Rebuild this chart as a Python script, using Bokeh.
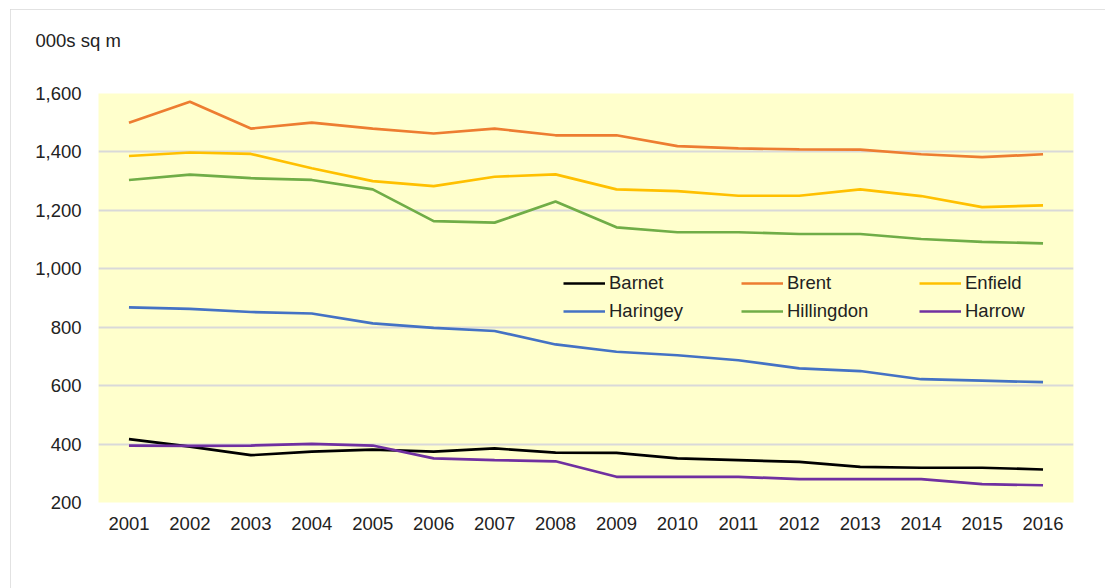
from bokeh.plotting import figure
from bokeh.models import Legend, NumeralTickFormatter, FixedTicker, Range1d, FactorRange
from bokeh.embed import file_html
from bokeh.resources import INLINE

years = [str(y) for y in range(2001, 2017)]
barnet     = [417, 391, 362, 374, 381, 374, 385, 371, 370, 351, 345, 339, 322, 319, 319, 313]
brent      = [1500, 1572, 1480, 1500, 1480, 1463, 1480, 1457, 1457, 1420, 1412, 1409, 1408, 1392, 1382, 1392]
enfield    = [1386, 1398, 1393, 1344, 1300, 1283, 1315, 1323, 1272, 1266, 1250, 1250, 1272, 1249, 1211, 1217]
haringey   = [868, 863, 852, 847, 813, 798, 787, 741, 716, 704, 687, 659, 650, 622, 617, 612]
hillingdon = [1304, 1322, 1310, 1304, 1272, 1163, 1158, 1230, 1142, 1125, 1125, 1119, 1119, 1102, 1092, 1087]
harrow     = [395, 394, 395, 401, 395, 351, 345, 341, 288, 288, 288, 280, 280, 280, 263, 259]
y_ticks = [200, 400, 600, 800, 1000, 1200, 1400, 1600]
unit_label = "000s  sq m"

series = [
    ("Barnet", barnet, "#000000"),
    ("Brent", brent, "#ED7D31"),
    ("Enfield", enfield, "#FFC000"),
    ("Haringey", haringey, "#4472C4"),
    ("Hillingdon", hillingdon, "#70AD47"),
    ("Harrow", harrow, "#7030A0"),
]

FONT = "Liberation Sans"
TXT = "#222222"
FS = "18.5px"

p = figure(x_range=FactorRange(*years), y_range=Range1d(200, 1600),
           frame_width=975, frame_height=409,
           min_border_left=88, min_border_top=81, min_border_right=32, min_border_bottom=89,
           output_backend="svg", toolbar_location=None)
p.styles = {"margin-left": "10px", "margin-top": "9px",
            "outline": "2px solid #d9d9d9", "outline-offset": "-2px"}
p.background_fill_color = "#FFFFCC"
p.border_fill_color = "white"
p.outline_line_color = None

# second (blank) line lifts the unit label away from the frame
p.title.text = unit_label + "\n "
p.title.align = "left"
p.title.vertical_align = "top"
p.title.offset = -63
p.title.standoff = 40
p.title.text_font = FONT
p.title.text_font_size = FS
p.title.text_font_style = "normal"
p.title.text_color = TXT

renderers = []
for name, vals, col in series:
    r = p.line(x=years, y=vals, line_color=col, line_width=2.7)
    renderers.append((name, [r]))

p.yaxis.ticker = FixedTicker(ticks=y_ticks)
p.yaxis.formatter = NumeralTickFormatter(format="0,0")
p.ygrid.ticker = FixedTicker(ticks=y_ticks)
p.ygrid.grid_line_color = "#D9D9D9"
p.ygrid.grid_line_width = 2
p.xgrid.grid_line_color = None

for ax in (p.xaxis[0], p.yaxis[0]):
    ax.axis_line_color = None
    ax.major_tick_line_color = None
    ax.minor_tick_line_color = None
    ax.major_label_text_font = FONT
    ax.major_label_text_font_size = FS
    ax.major_label_text_color = TXT
p.yaxis.major_label_standoff = 11
p.xaxis.major_label_standoff = 8

legend = Legend(items=renderers, location=(465, 180), orientation="horizontal", ncols=3,
                glyph_width=42, glyph_height=20, label_standoff=4, label_width=126,
                label_height=21, spacing=6, padding=0, margin=0,
                border_line_color=None, background_fill_alpha=0,
                label_text_font=FONT, label_text_font_size=FS, label_text_color=TXT)
p.add_layout(legend, "center")

open("out.html", "w").write(file_html(p, INLINE))
